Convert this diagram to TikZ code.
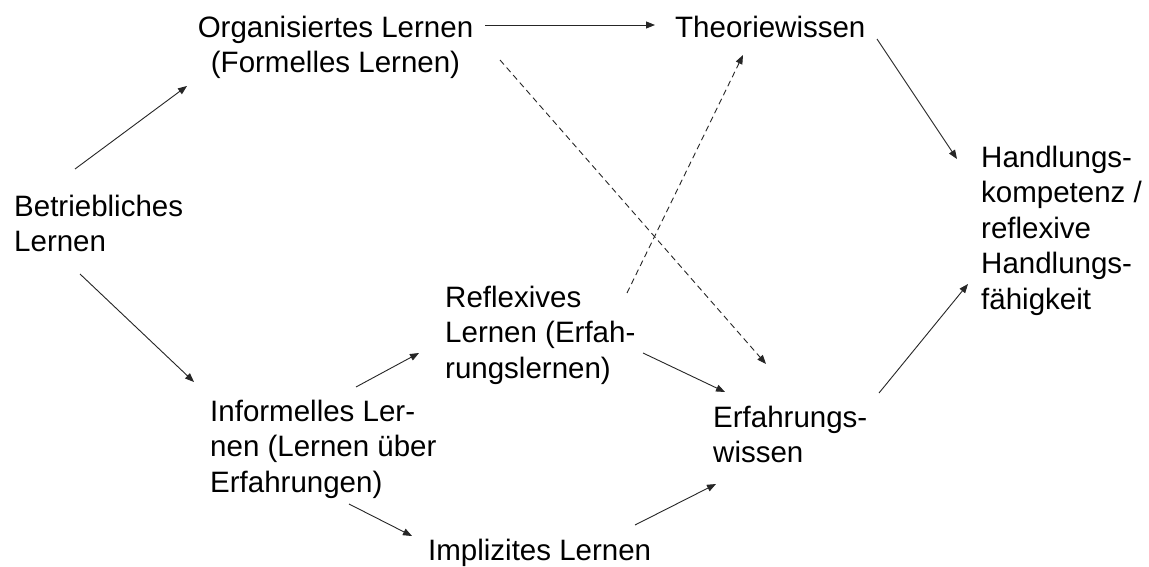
\documentclass[tikz,border=0pt]{standalone}
\usepackage{fontspec}
\setmainfont{Liberation Sans}
\usetikzlibrary{arrows.meta}
\begin{document}
\begin{tikzpicture}[x=1pt,y=1pt,
  lbl/.style={inner sep=0pt, font=\fontsize{29.5}{35.5}\selectfont, align=left, anchor=north west},
  arr/.style={line width=0.9pt, draw=black!85, -{Triangle[length=9pt,width=7pt]}},
  dsh/.style={arr, dash pattern=on 6pt off 4pt}]
\useasboundingbox[fill=white] (0,0) rectangle (1149,566);

\node[lbl] (bl) at (14,371.3) {Betriebliches\\Lernen};
\node[lbl, align=center, anchor=north] (org) at (335.5,550.3) {Organisiertes Lernen\\(Formelles Lernen)};
\node[lbl] (theo) at (675,550.3) {Theoriewissen};
\node[lbl] (hand) at (981,420.3) {Handlungs-\\kompetenz /\\reflexive\\Handlungs-\\fähigkeit};
\node[lbl] (refl) at (445,280.3) {Reflexives\\Lernen (Erfah-\\rungslernen)};
\node[lbl] (inf) at (210,166.3) {Informelles Ler-\\nen (Lernen über\\Erfahrungen)};
\node[lbl] (impl) at (428,27.3) {Implizites Lernen};
\node[lbl] (erf) at (713,160.3) {Erfahrungs-\\wissen};

\draw[arr] ([shift={(61,25.7)}]bl.north west) -- ([shift={(-148.5,-70.3)}]org.north);
\draw[arr] ([shift={(66,-79.3)}]bl.north west) -- ([shift={(-16,17.7)}]inf.north west);
\draw[arr] ([shift={(149.5,-9.3)}]org.north) -- ([shift={(-20,-9.3)}]theo.north west);
\draw[dsh] ([shift={(164.5,-44.3)}]org.north) -- ([shift={(53,41.7)}]erf.north west);
\draw[dsh] ([shift={(182,-7.3)}]refl.north west) -- ([shift={(68,-39.3)}]theo.north west);
\draw[arr] ([shift={(202,-23.3)}]theo.north west) -- ([shift={(-24,-13.3)}]hand.north west);
\draw[arr] ([shift={(166,12.7)}]erf.north west) -- ([shift={(-13,-138.3)}]hand.north west);
\draw[arr] ([shift={(146,12.7)}]inf.north west) -- ([shift={(-26,-67.3)}]refl.north west);
\draw[arr] ([shift={(198,-67.3)}]refl.north west) -- ([shift={(12,13.7)}]erf.north west);
\draw[arr] ([shift={(139,-104.3)}]inf.north west) -- ([shift={(-16,2.7)}]impl.north west);
\draw[arr] ([shift={(207,13.7)}]impl.north west) -- ([shift={(3,-78.3)}]erf.north west);
\end{tikzpicture}
\end{document}
